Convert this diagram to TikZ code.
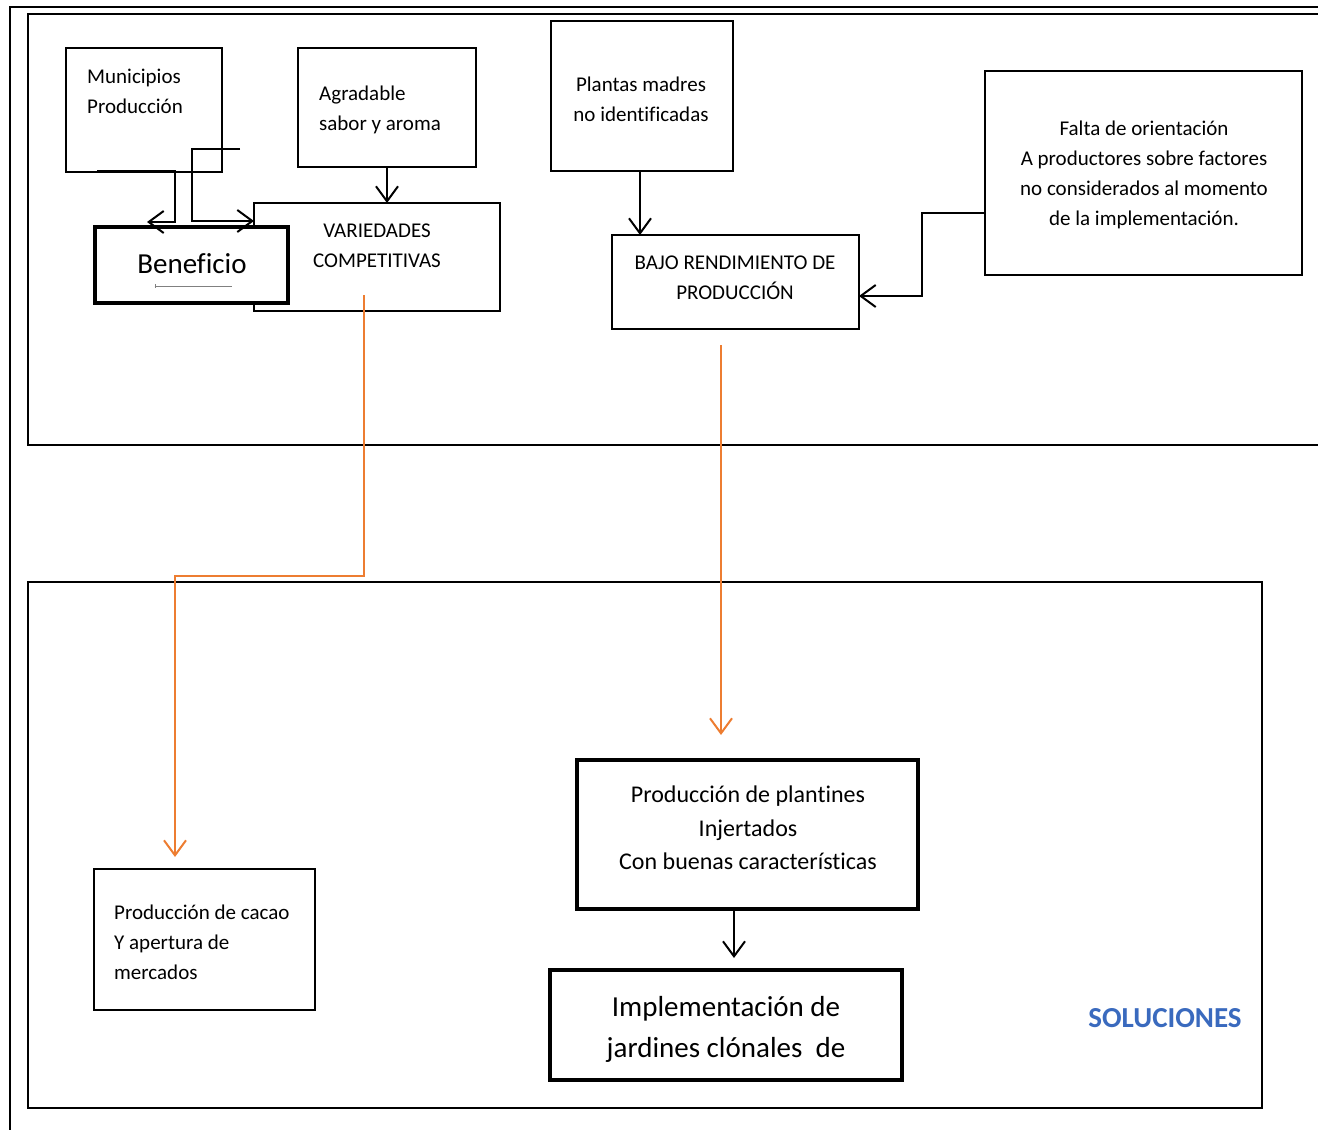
\documentclass[tikz,border=0pt]{standalone}
\usepackage{fontspec}
\setmainfont{Carlito}[Ligatures=NoCommon]
\usetikzlibrary{arrows.meta,calc}
\definecolor{orangeline}{RGB}{237,125,49}
\definecolor{solblue}{RGB}{58,106,190}
\begin{document}
\begin{tikzpicture}[x=1pt,y=-1pt,
  box/.style={draw, line width=2pt, rectangle, fill=white, inner sep=0pt, outer sep=0pt},
  thickbox/.style={box, line width=4.5pt},
  frameline/.style={draw, line width=2.6pt},
  arr/.style={draw, line width=2pt, -{Straight Barb[length=15pt,width=22pt,line width=2pt]}},
  oarr/.style={draw=orangeline, line width=2pt, -{Straight Barb[length=15pt,width=22pt,line width=2pt]}},
  small/.style={font=\fontsize{21}{30}\selectfont, inner sep=0pt},
  mid/.style={font=\fontsize{24}{33.5}\selectfont, inner sep=0pt},
  big/.style={font=\fontsize{29}{41}\selectfont, inner sep=0pt}
]
\useasboundingbox (0,0) rectangle (1318,1130);
% frames
\draw[frameline] (10,1130) -- (10,7) -- (1318,7);
\draw[frameline] (1318,14) -- (28,14) -- (28,445) -- (1318,445);
\draw[frameline] (28,582) rectangle (1262,1108);

% boxes
\node[box, minimum width=156pt, minimum height=124pt] (mun) at (144,110) {};
\node[box, minimum width=178pt, minimum height=119pt] (agr) at (387,107.5) {};
\node[box, minimum width=182pt, minimum height=150pt] (pla) at (642,96) {};
\node[box, minimum width=317pt, minimum height=204pt] (fal) at (1143.5,173) {};
\node[box, minimum width=246pt, minimum height=108pt] (var) at (377,257) {};
\node[thickbox, minimum width=193pt, minimum height=76pt] (ben) at (191.5,265) {};
\node[box, minimum width=247pt, minimum height=94pt] (baj) at (735.5,282) {};
\node[thickbox, minimum width=341pt, minimum height=149pt] (pdp) at (747.5,834.5) {};
\node[thickbox, minimum width=352pt, minimum height=110pt] (imp) at (726,1025) {};
\node[box, minimum width=221pt, minimum height=141pt] (cac) at (204.5,939.5) {};

% texts
\node[small, align=left, anchor=west] (tmun) at (87,91) {Municipios\\Producción};
\node[small, align=left, anchor=west] (tagr) at (319,110) {Agradable\\sabor y aroma};
\node[small, align=center] (tpla) at (641,99) {Plantas madres\\no identificadas};
\node[small, align=center] (tfal) at (1144,175) {Falta de orientación\\A productores sobre factores\\no considerados al momento\\de la implementación.};
\node[small, align=center] (tvar) at (377,246) {VARIEDADES\\COMPETITIVAS};
\node[small, align=center] (tbaj) at (735,278) {BAJO RENDIMIENTO DE\\PRODUCCIÓN};
\node[big] (tben) at (192,264) {Beneficio};
\node[mid, align=center] (tpdp) at (748,828) {Producción de plantines\\Injertados\\Con buenas características};
\node[small, align=left, anchor=west] (tcac) at (114,942) {Producción de cacao\\Y apertura de\\mercados};
\node[big, align=center] (timp) at (726,1029) {Implementación de\\jardines clónales\ \ de};
\node[font=\fontsize{29}{35}\bfseries\selectfont, text=solblue, inner sep=0pt] (tsol) at (1165,1018) {SOLUCIONES};

% small artefact line in Beneficio
\draw[gray, line width=0.8pt] ($(ben.south)+(-37,-17)$) -- ++(77,0);
\draw[gray, line width=0.6pt] ($(ben.south)+(-36,-19)$) -- ++(0,4);

% connectors
\draw[arr] (agr.south) -- (agr.south |- var.north);
\draw[arr] ($(pla.south)+(-2,0)$) -- ($(pla.south |- baj.north)+(-2,0)$);
\coordinate (fbend) at (922,0);
\draw[arr] ($(fal.west)+(0,40)$) coordinate (f1) -- (f1 -| fbend) |- ($(baj.east)+(0,14)$);
\coordinate (pdpout) at ($(pdp.south)+(-13.5,0)$);
\draw[arr, shorten >=12pt] (pdpout) -- (pdpout |- imp.north);

\draw[arr] ($(mun.south west)+(31,-1)$) -- ++(78,0) -- ++(0,51) -- ++(-28,0);
\draw[arr] ($(mun.east)+(18,39)$) -- ++(-48,0) |- ($(var.north west)+(0,18)$);

\coordinate (o1) at ($(var.south)+(-13,-16)$);
\coordinate (o2) at ($(cac.north)+(-29.5,0)$);
\draw[oarr, shorten >=12pt] (o1) -- ++(0,281) -| (o2);
\coordinate (o3) at ($(baj.south)+(-14.5,16)$);
\draw[oarr, shorten >=25pt] (o3) -- (o3 |- pdp.north);
\end{tikzpicture}
\end{document}
